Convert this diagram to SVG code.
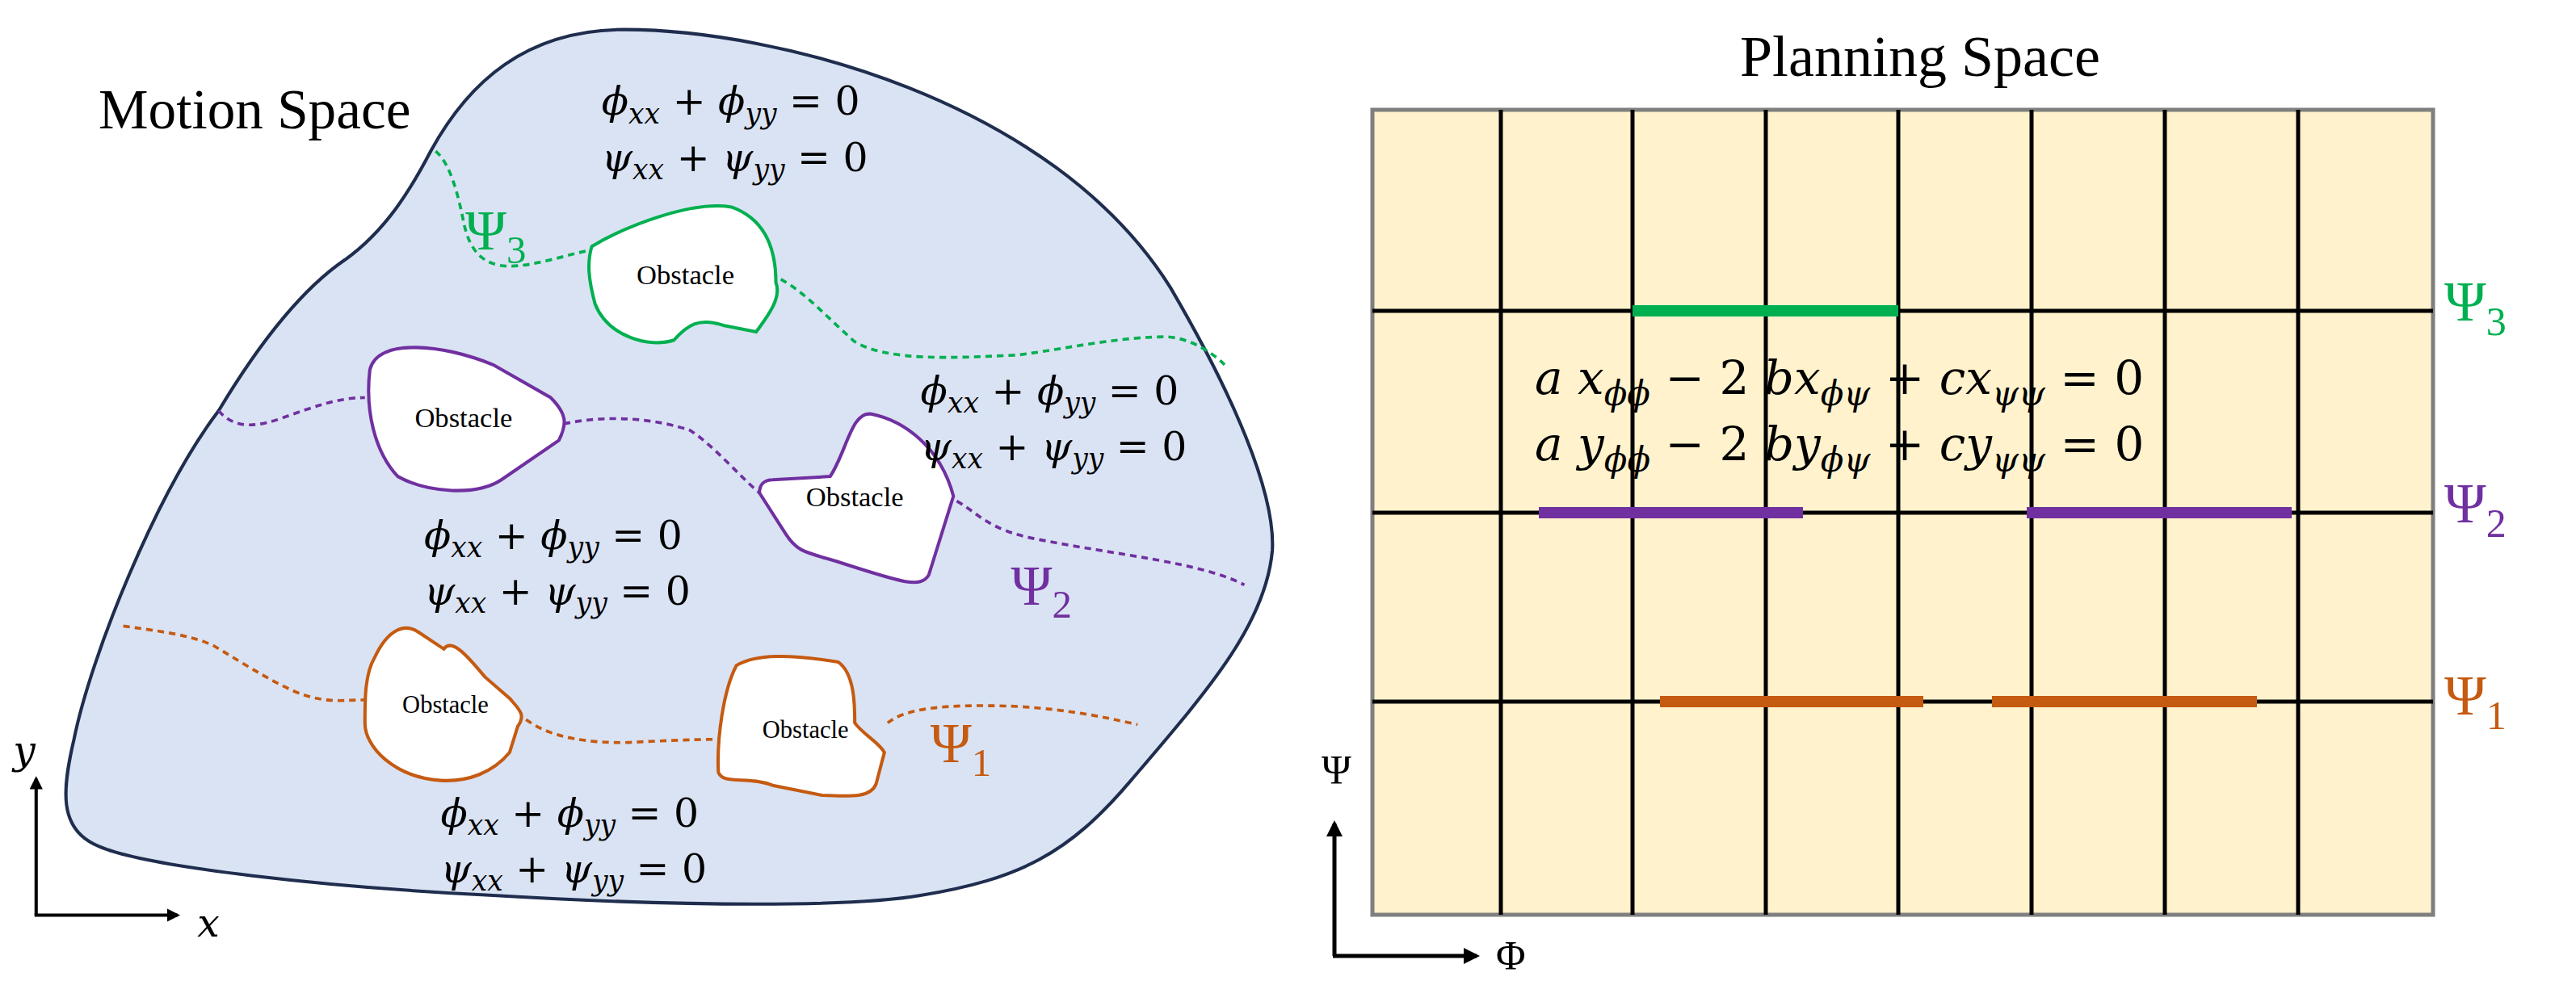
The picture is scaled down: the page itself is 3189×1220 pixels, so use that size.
<svg xmlns="http://www.w3.org/2000/svg" width="3189" height="1220" viewBox="0 0 3189 1220">
<defs>
<marker id="ah" viewBox="0 0 10 10" refX="8" refY="5" markerWidth="4" markerHeight="4" orient="auto"><path d="M0,0L10,5L0,10Z" fill="#000"/></marker>
<marker id="ahs" viewBox="0 0 10 10" refX="8" refY="5" markerWidth="4" markerHeight="4" orient="auto"><path d="M0,0L10,5L0,10Z" fill="#000"/></marker>
</defs>
<style>
.t{font-family:"Liberation Serif",serif;fill:#000}
.m{font-family:"DejaVu Serif","Liberation Serif",serif;font-style:italic;fill:#000}
.obs{fill:#fff;stroke-width:2}
.d{fill:none;stroke-width:1.8;stroke-dasharray:4,3}
.g{stroke:#00b050}.p{stroke:#7030a0}.o{stroke:#c55a11}
.grid{stroke:#000;stroke-width:5}
</style>
<rect width="3189" height="1220" fill="#fff"/>
<g transform="scale(2.035)">
<g id="motion-space">
<path d="M262,92 C285,50 320,18 380,18 C470,18 640,60 712,175 C750,240 776,300 774,335 C770,380 735,420 688,475 C650,520 620,535 560,545 C520,552 420,552 300,545 C200,540 90,528 60,515 C35,505 38,480 45,450 C55,400 95,300 133,250 C160,205 185,175 210,158 C235,140 250,115 262,92 Z" fill="#dae3f3" stroke="#1f2d4e" stroke-width="2"/>
<text class="t" x="60" y="78" font-size="34">Motion Space</text>
</g>
<g id="connectors">
<path class="d g" d="M265,92 C275,100 280,125 282,135 C285,150 292,162 310,162 C325,162 345,155 360,152"/>
<path class="d g" d="M475,170 C490,178 505,195 520,208 C540,220 580,218 620,216 C650,212 680,205 710,205 C725,206 738,215 745,222"/>
<path class="d p" d="M133,250 C140,258 150,262 170,255 C190,248 205,242 222,242"/>
<path class="d p" d="M343,258 C370,252 400,255 420,262 C435,272 450,290 462,300"/>
<path class="d p" d="M582,305 C595,312 600,322 630,328 C680,338 730,342 757,356"/>
<path class="d o" d="M75,381 C95,384 115,386 130,393 C150,405 170,418 185,423 C200,428 210,426 222,426"/>
<path class="d o" d="M320,438 C330,445 345,452 380,452 C400,451 420,450 437,450"/>
<path class="d o" d="M540,440 C550,432 570,428 620,430 C650,432 670,436 692,441"/>
</g>
<g id="obstacle-green">
<path class="obs g" d="M360,150 C380,138 420,122 445,126 C470,135 472,160 472,172 C476,182 465,195 460,202 L440,198 C425,193 418,198 410,207 C395,212 370,205 362,185 C358,170 357,160 360,150 Z"/>
<text class="t" x="417" y="173" font-size="17" text-anchor="middle">Obstacle</text>
</g>
<g id="obstacle-purple-1">
<path class="obs p" d="M225,225 C230,205 270,210 300,222 L335,242 C345,252 345,258 340,268 L305,292 C290,302 260,300 242,290 C228,275 222,250 225,225 Z"/>
<text class="t" x="282" y="260" font-size="17" text-anchor="middle">Obstacle</text>
</g>
<g id="obstacle-purple-2">
<path class="obs p" d="M470,292 L505,290 C515,275 518,250 530,252 C550,256 572,272 580,302 L565,350 C560,358 550,355 510,342 C490,336 485,336 478,325 L462,300 C462,295 465,292 470,292 Z"/>
<text class="t" x="520" y="308" font-size="17" text-anchor="middle">Obstacle</text>
</g>
<g id="obstacle-orange-1">
<path class="obs o" d="M228,400 C235,385 245,378 255,385 L270,395 C275,388 285,400 295,412 L310,425 C316,432 320,435 315,442 L310,458 C300,470 285,476 268,475 C240,473 222,455 222,440 C222,425 222,410 228,400 Z"/>
<text class="t" x="271" y="434" font-size="15" text-anchor="middle">Obstacle</text>
</g>
<g id="obstacle-orange-2">
<path class="obs o" d="M448,405 C460,398 480,398 510,403 C520,410 520,430 520,440 C525,447 535,452 538,458 L533,477 C530,485 520,485 500,484 L470,478 C455,472 440,478 437,470 C436,450 440,420 448,405 Z"/>
<text class="t" x="490" y="449" font-size="15" text-anchor="middle">Obstacle</text>
</g>
<g id="labels-left">
<text class="m" font-size="24"><tspan x="366" y="70">ϕ<tspan font-size="17" dy="5">xx</tspan><tspan dy="-5" font-style="normal"> + </tspan>ϕ<tspan font-size="17" dy="5">yy</tspan><tspan dy="-5" font-style="normal"> = 0</tspan></tspan></text>
<text class="m" font-size="24"><tspan x="366" y="104">ψ<tspan font-size="17" dy="5">xx</tspan><tspan dy="-5" font-style="normal"> + </tspan>ψ<tspan font-size="17" dy="5">yy</tspan><tspan dy="-5" font-style="normal"> = 0</tspan></tspan></text>
<text class="m" font-size="24"><tspan x="560" y="246">ϕ<tspan font-size="17" dy="5">xx</tspan><tspan dy="-5" font-style="normal"> + </tspan>ϕ<tspan font-size="17" dy="5">yy</tspan><tspan dy="-5" font-style="normal"> = 0</tspan></tspan></text>
<text class="m" font-size="24"><tspan x="560" y="280">ψ<tspan font-size="17" dy="5">xx</tspan><tspan dy="-5" font-style="normal"> + </tspan>ψ<tspan font-size="17" dy="5">yy</tspan><tspan dy="-5" font-style="normal"> = 0</tspan></tspan></text>
<text class="m" font-size="24"><tspan x="258" y="334">ϕ<tspan font-size="17" dy="5">xx</tspan><tspan dy="-5" font-style="normal"> + </tspan>ϕ<tspan font-size="17" dy="5">yy</tspan><tspan dy="-5" font-style="normal"> = 0</tspan></tspan></text>
<text class="m" font-size="24"><tspan x="258" y="368">ψ<tspan font-size="17" dy="5">xx</tspan><tspan dy="-5" font-style="normal"> + </tspan>ψ<tspan font-size="17" dy="5">yy</tspan><tspan dy="-5" font-style="normal"> = 0</tspan></tspan></text>
<text class="m" font-size="24"><tspan x="268" y="503">ϕ<tspan font-size="17" dy="5">xx</tspan><tspan dy="-5" font-style="normal"> + </tspan>ϕ<tspan font-size="17" dy="5">yy</tspan><tspan dy="-5" font-style="normal"> = 0</tspan></tspan></text>
<text class="m" font-size="24"><tspan x="268" y="537">ψ<tspan font-size="17" dy="5">xx</tspan><tspan dy="-5" font-style="normal"> + </tspan>ψ<tspan font-size="17" dy="5">yy</tspan><tspan dy="-5" font-style="normal"> = 0</tspan></tspan></text>
<text class="t" x="283" y="152" font-size="34" style="fill:#00b050">Ψ<tspan font-size="24" dy="8">3</tspan></text>
<text class="t" x="615" y="368" font-size="34" style="fill:#7030a0">Ψ<tspan font-size="24" dy="8">2</tspan></text>
<text class="t" x="566" y="464" font-size="34" style="fill:#c55a11">Ψ<tspan font-size="24" dy="8">1</tspan></text>
</g>
<g id="axes-left">
<path d="M22,557 V474" stroke="#000" stroke-width="2" fill="none" marker-end="url(#ahs)"/>
<path d="M21,557 H108" stroke="#000" stroke-width="2" fill="none" marker-end="url(#ahs)"/>
<text class="m" x="8" y="465" font-size="24">y</text>
<text class="m" x="120" y="570" font-size="24">x</text>
</g>
</g>
<g id="planning-space">
<text class="t" x="2377" y="94" font-size="72" text-anchor="middle">Planning Space</text>
<rect x="1699" y="136" width="1313" height="997" fill="#fff2cc" stroke="#7f7f7f" stroke-width="5"/>
<g class="grid">
<line x1="1858" y1="136" x2="1858" y2="1133"/><line x1="2021" y1="136" x2="2021" y2="1133"/><line x1="2186" y1="136" x2="2186" y2="1133"/><line x1="2350" y1="136" x2="2350" y2="1133"/><line x1="2515" y1="136" x2="2515" y2="1133"/><line x1="2680" y1="136" x2="2680" y2="1133"/><line x1="2845" y1="136" x2="2845" y2="1133"/>
<line x1="1699" y1="385" x2="3012" y2="385"/><line x1="1699" y1="635" x2="3012" y2="635"/><line x1="1699" y1="869" x2="3012" y2="869"/>
</g>
<g stroke-width="14">
<line x1="2021" y1="385" x2="2350" y2="385" stroke="#00b050"/>
<line x1="1905" y1="635" x2="2232" y2="635" stroke="#7030a0"/>
<line x1="2509" y1="635" x2="2837" y2="635" stroke="#7030a0"/>
<line x1="2055" y1="869" x2="2381" y2="869" stroke="#c55a11"/>
<line x1="2466" y1="869" x2="2794" y2="869" stroke="#c55a11"/>
</g>
<text class="m" font-size="58"><tspan x="1900" y="488">a x<tspan font-size="42" dy="14">ϕϕ</tspan><tspan dy="-14" font-style="normal"> − 2 </tspan>bx<tspan font-size="42" dy="14">ϕψ</tspan><tspan dy="-14" font-style="normal"> + </tspan>cx<tspan font-size="42" dy="14">ψψ</tspan><tspan dy="-14" font-style="normal"> = 0</tspan></tspan></text>
<text class="m" font-size="58"><tspan x="1900" y="570">a y<tspan font-size="42" dy="14">ϕϕ</tspan><tspan dy="-14" font-style="normal"> − 2 </tspan>by<tspan font-size="42" dy="14">ϕψ</tspan><tspan dy="-14" font-style="normal"> + </tspan>cy<tspan font-size="42" dy="14">ψψ</tspan><tspan dy="-14" font-style="normal"> = 0</tspan></tspan></text>
<text class="t" x="3026" y="397" font-size="70" style="fill:#00b050">Ψ<tspan font-size="50" dy="18">3</tspan></text>
<text class="t" x="3026" y="647" font-size="70" style="fill:#7030a0">Ψ<tspan font-size="50" dy="18">2</tspan></text>
<text class="t" x="3026" y="885" font-size="70" style="fill:#c55a11">Ψ<tspan font-size="50" dy="18">1</tspan></text>
<path d="M1652,1184 V1020" stroke="#000" stroke-width="5" fill="none" marker-end="url(#ah)"/>
<path d="M1650,1184 H1828" stroke="#000" stroke-width="5" fill="none" marker-end="url(#ah)"/>
<text class="t" x="1636" y="970" font-size="50">Ψ</text>
<text class="t" x="1852" y="1200" font-size="50">Φ</text>
</g>
</svg>
